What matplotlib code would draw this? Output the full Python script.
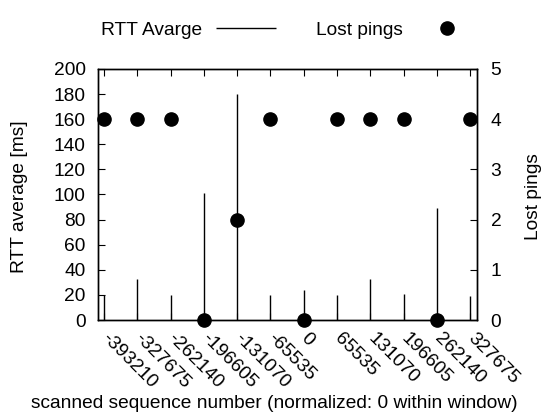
import numpy as np
import matplotlib
matplotlib.use("Agg")
from matplotlib import pyplot as plt

plt.rcParams['font.family'] = ['Liberation Sans', 'DejaVu Sans']
plt.rcParams['font.size'] = 13.8

# data
seq = [-393210, -327675, -262140, -196605, -131070, -65535,
       0, 65535, 131070, 196605, 262140, 327675]
rtt_avg = [20, 33, 20, 101, 180, 20, 24, 20, 33, 21, 89, 19]
lost = [4, 4, 4, 0, 2, 4, 0, 4, 4, 4, 0, 4]
tick_labels = [str(s) for s in seq]

step = 65535
fig = plt.figure(figsize=(5.42, 4.18), dpi=100)
ax = fig.add_axes([0.180, 0.2344, 0.6995, 0.6006])
ax2 = ax.twinx()

rtt = ax.vlines(seq, 0, rtt_avg, colors='black', linewidth=1.0, label='RTT Avarge')
pts, = ax2.plot(seq, lost, 'o', color='black', markersize=9.5, clip_on=False,
                zorder=5, label='Lost pings')

ax.set_xlim(seq[0] - 0.2 * step, seq[-1] + 0.2 * step)
ax.set_ylim(0, 200)
ax.set_yticks(np.arange(0, 201, 20))
ax2.set_ylim(0, 5)
ax2.set_yticks(range(0, 6))

ax.set_xticks(seq)
ax.set_xticklabels(tick_labels, rotation=-45, ha='left', va='center',
                   rotation_mode='anchor')
ax.tick_params(axis='x', direction='in', top=True, length=5, pad=11.5)
ax.tick_params(axis='y', direction='in', length=5, pad=8.5)
ax2.tick_params(axis='y', direction='in', length=5, pad=10)

for a in (ax, ax2):
    for s in a.spines.values():
        s.set_linewidth(1.0)

ax.set_ylabel('RTT average [ms]')
ax.yaxis.set_label_coords(0.052, 0.529, transform=fig.transFigure)
ax2.set_ylabel('Lost pings')
ax2.yaxis.set_label_coords(0.968, 0.529, transform=fig.transFigure)
ax.set_xlabel('scanned sequence number (normalized: 0 within window)')
ax.xaxis.set_label_coords(0.506, 0.055, transform=fig.transFigure)

fig.legend([rtt, pts], ['RTT Avarge', 'Lost pings'], loc='upper center',
           bbox_to_anchor=(0.533, 0.99), ncol=2, frameon=False,
           markerfirst=False, handlelength=3.1, handletextpad=0.73,
           columnspacing=2.1)

fig.savefig('out.png', dpi=100)
